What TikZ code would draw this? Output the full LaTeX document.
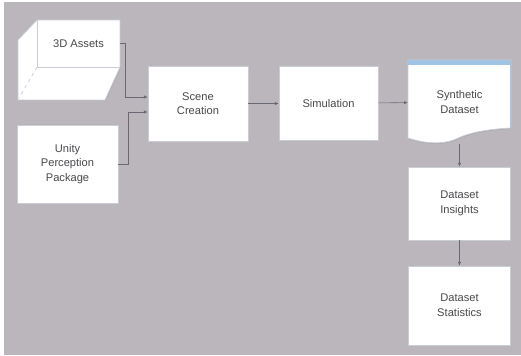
\documentclass[tikz,border=0pt]{standalone}
\usepackage{fontspec}
\setmainfont{Liberation Sans}
\usetikzlibrary{arrows.meta,calc,shadows}
\definecolor{bggray}{RGB}{187,182,188}
\definecolor{boxline}{RGB}{200,205,212}
\definecolor{txtgray}{RGB}{72,72,76}
\definecolor{wire}{RGB}{105,105,115}
\definecolor{docblue}{RGB}{160,196,228}
\tikzset{
	block/.style={rectangle, fill=white, draw=boxline, line width=0.6pt, align=center,
		text=txtgray, font=\fontsize{9.5}{12.5}\selectfont,
		drop shadow={shadow xshift=0.6pt, shadow yshift=-0.8pt, opacity=0.25}},
	label text/.style={align=center, text=txtgray, font=\fontsize{9.5}{12.5}\selectfont},
	cubeline/.style={draw=boxline, line width=0.6pt},
	wire arrow/.style={draw=wire, line width=0.5pt, -{Latex[length=3.2pt,width=3pt]}}
}
\begin{document}
\begin{tikzpicture}[x=0.03cm, y=-0.03cm]
		\useasboundingbox (0,0) rectangle (521,355);
		\fill[white] (0,0) rectangle (521,355);
		\fill[bggray] (4,2) rectangle (521,355);
		
		%3D Assets cube
		\draw[cubeline, fill=white, drop shadow={shadow xshift=0.6pt, shadow yshift=-0.8pt, opacity=0.25}]
			(18,40) -- (37,20) -- (120,20) -- (120,67) -- (105,100) -- (18,100) -- cycle;
		\draw[cubeline] (37,20) -- (37,67) -- (120,67);
		\draw[cubeline, dashed] (37,67) -- (19,98);
		\node[label text, minimum width=2.49cm, minimum height=1.41cm] (assets) at (78.5,43.5) {3D Assets};
		
		%Left column
		\node[block, minimum width=3.03cm, minimum height=2.34cm] (unity) at (67.5,164) {Unity\\Perception\\Package};
		
		%Main row
		\node[block, minimum width=3cm, minimum height=2.25cm] (scene) at (198,103.5) {Scene\\Creation};
		\node[block, minimum width=2.97cm, minimum height=2.22cm] (sim) at (328.5,103.5) {Simulation};
		
		%Synthetic Dataset document
		\draw[cubeline, fill=white, drop shadow={shadow xshift=0.6pt, shadow yshift=-0.8pt, opacity=0.25}]
			(408,60) -- (511,60) -- (511,128) .. controls (490,129) and (470,132) .. (456,139)
			.. controls (440,146) and (420,142) .. (408,138) -- cycle;
		\fill[docblue] (408,60) rectangle (511,65);
		\draw[docblue, line width=1pt] (510.5,60) -- (510.5,128);
		\node[label text, minimum width=3.09cm, minimum height=2.52cm] (synth) at (459.5,102) {Synthetic\\Dataset};
		
		%Right column
		\node[block, minimum width=3.06cm, minimum height=2.19cm] (insights) at (459.5,203.5) {Dataset\\Insights};
		\node[block, minimum width=3.06cm, minimum height=2.37cm] (stats) at (459.5,305.5) {Dataset\\Statistics};
		
		%Connectors
		\draw[wire arrow] (assets.east) -- ++(5,0) |- ($(scene.west)+(0,-6.5)$);
		\draw[wire arrow] (unity.east) -- ++(10,0) |- ($(scene.west)+(0,8.5)$);
		\draw[wire arrow] (scene) -- (sim);
		\draw[wire arrow] (sim) -- (synth);
		\draw[wire arrow] (synth.south) -- (insights.north);
		\draw[wire arrow] (insights) -- (stats);
		
\end{tikzpicture}
\end{document}
